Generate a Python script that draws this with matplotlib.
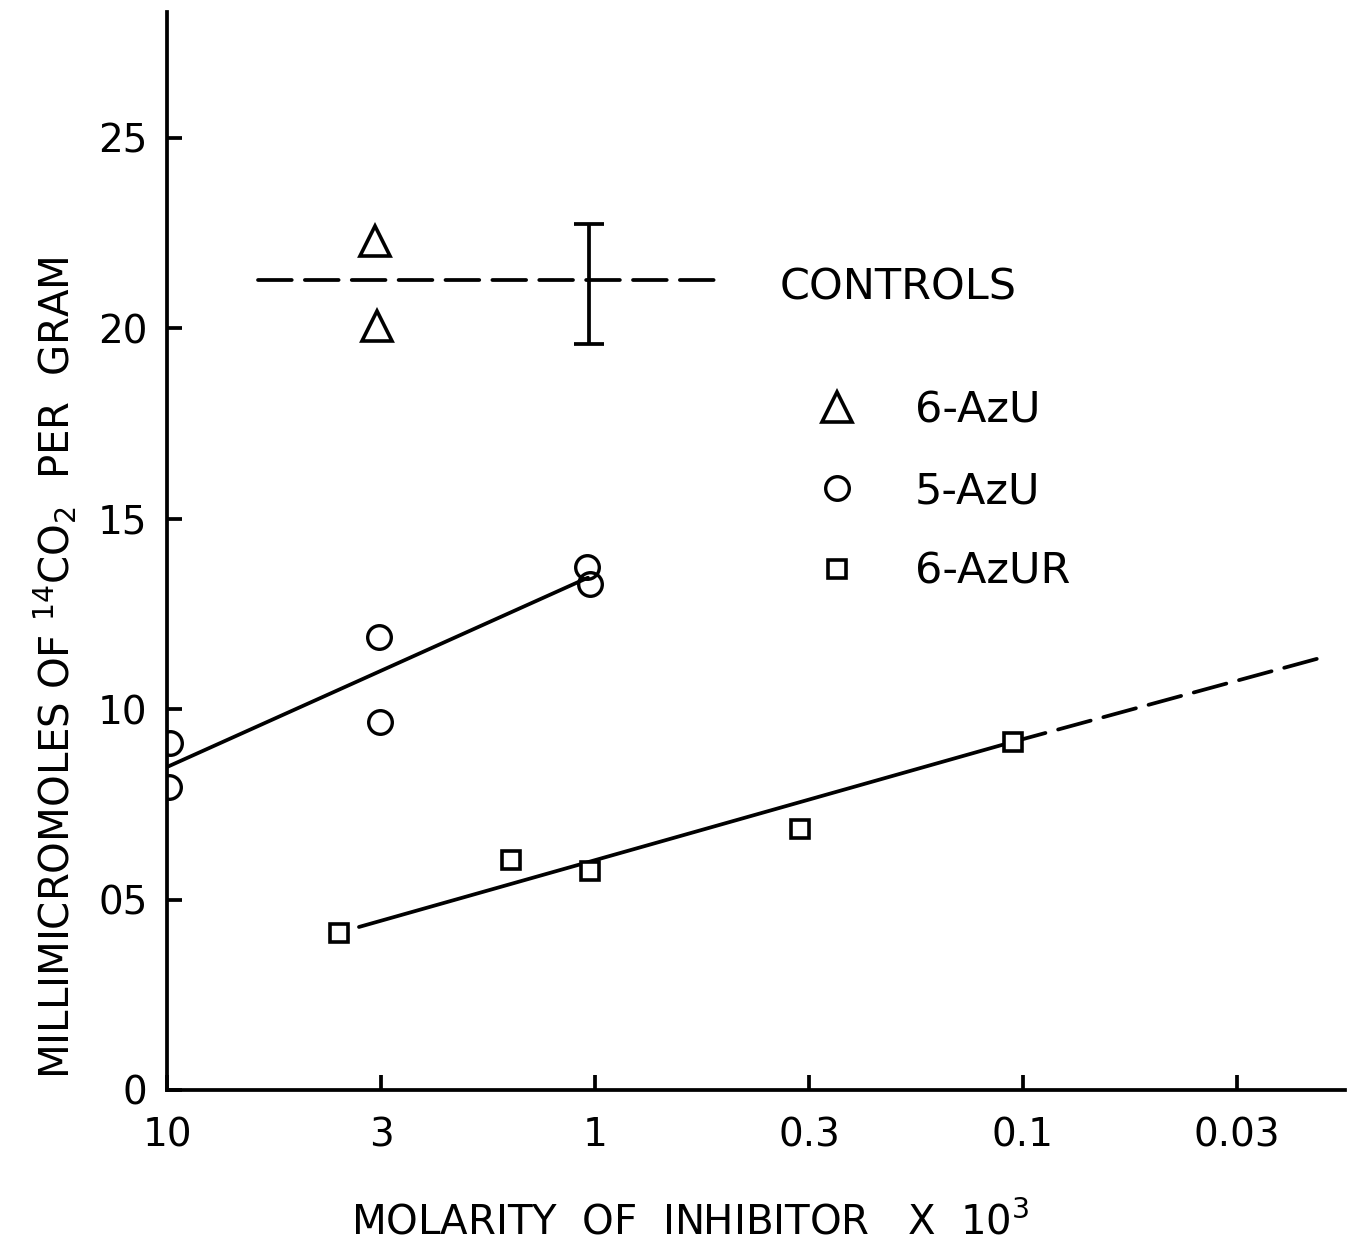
import matplotlib
matplotlib.use("Agg")
import matplotlib.pyplot as plt

# x axis: evenly spaced molarity ticks (x 10^3), plotted by position
tick_pos = [0, 1, 2, 3, 4, 5]
tick_labels = ['10', '3', '1', '0.3', '0.1', '0.03']
y_ticks = [0, 5, 10, 15, 20, 25]
y_tick_labels = ['0', '05', '10', '15', '20', '25']

# 6-AzU (triangles)
azu6_x = [0.97, 0.98]
azu6_y = [22.28, 20.05]

# controls: mean line and spread
controls_x = [0.425, 2.598]
controls_mean = [21.27, 21.27]
controls_err_x = 1.972
controls_err_low = 1.68
controls_err_high = 1.47

# 5-AzU (circles) and fitted line
azu5_x = [0.014, 0.009, 0.99, 0.995, 1.963, 1.977]
azu5_y = [9.11, 7.96, 11.90, 9.66, 13.73, 13.29]
azu5_fit_x = [0.0, 1.967]
azu5_fit_y = [8.48, 13.45]

# 6-AzUR (squares), fitted line and extrapolation
azur_x = [0.804, 1.607, 1.977, 2.958, 3.953]
azur_y = [4.12, 6.04, 5.75, 6.85, 9.14]
azur_fit_x = [0.897, 3.953]
azur_fit_y = [4.28, 9.14]
azur_ext_x = [3.953, 5.407]
azur_ext_y = [9.14, 11.37]

plt.rcParams['font.family'] = ['DejaVu Sans']
fig = plt.figure(figsize=(13.47, 12.44), dpi=100)
ax = fig.add_axes([0.124, 0.1238, 0.8745, 0.8665])

lw = 2.7
ax.plot(azu5_fit_x, azu5_fit_y, color='black', lw=lw, solid_capstyle='round')
ax.plot(azur_fit_x, azur_fit_y, color='black', lw=lw, solid_capstyle='round')
ax.plot(azur_ext_x, azur_ext_y, color='black', lw=lw, linestyle=(0, (9, 3.5)),
        dash_capstyle='round')
ax.plot(controls_x, controls_mean, color='black', lw=lw, linestyle=(0, (9, 3.5)),
        dash_capstyle='round')
ax.errorbar([controls_err_x], [controls_mean[0]],
            yerr=[[controls_err_low], [controls_err_high]],
            fmt='none', ecolor='black', elinewidth=lw, capsize=11, capthick=lw)

h1, = ax.plot(azu6_x, azu6_y, linestyle='none', marker='^', ms=22,
              mfc='white', mec='black', mew=2.6)
h2, = ax.plot(azu5_x, azu5_y, linestyle='none', marker='o', ms=17,
              mfc='none', mec='black', mew=2.4)
h3, = ax.plot(azur_x, azur_y, linestyle='none', marker='s', ms=13,
              mfc='white', mec='black', mew=2.6)

ax.text(2.864, 21.06, 'CONTROLS', fontsize=31, va='center', ha='left')

ax.legend([h1, h2, h3], ['6-AzU', '5-AzU', '6-AzUR'], loc='upper left',
          bbox_to_anchor=(0.518, 0.686), frameon=False, fontsize=31,
          handlelength=1.0, handletextpad=1.3, labelspacing=0.9,
          borderpad=0.4)

ax.set_xlim(0, 5.505)
ax.set_ylim(0, 28.3)
ax.set_xticks(tick_pos)
ax.set_xticklabels(tick_labels)
ax.set_yticks(y_ticks)
ax.set_yticklabels(y_tick_labels)
ax.tick_params(direction='in', length=11, width=lw, labelsize=28)
ax.tick_params(axis='x', pad=19)
ax.tick_params(axis='y', pad=14)
for side in ['top', 'right']:
    ax.spines[side].set_visible(False)
for side in ['left', 'bottom']:
    ax.spines[side].set_linewidth(lw)

ax.set_xlabel('MOLARITY  OF  INHIBITOR   X  10$^3$', fontsize=29)
ax.set_ylabel('MILLIMICROMOLES OF $^{14}$CO$_2$  PER  GRAM', fontsize=29)
ax.xaxis.set_label_coords(0.444, -0.104)
ax.xaxis.label.set_va('top')
ax.yaxis.set_label_coords(-0.095, 0.392)
ax.yaxis.label.set_va('center')

fig.savefig('out.png', dpi=100)
